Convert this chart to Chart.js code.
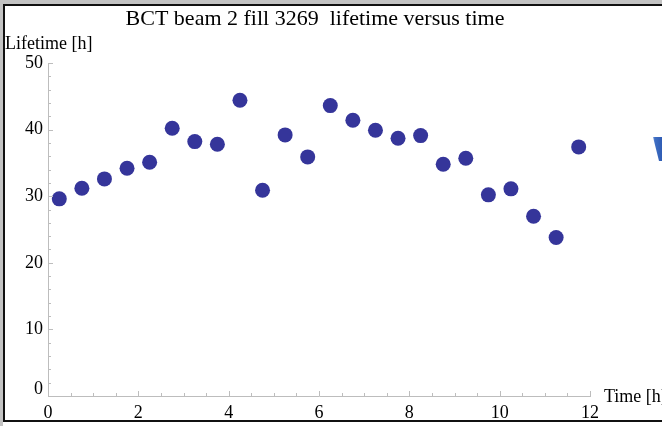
<!DOCTYPE html>
<html>
<head>
<meta charset="utf-8">
<title>BCT beam 2 fill 3269 lifetime versus time</title>
<script src="https://cdn.jsdelivr.net/npm/chart.js@4/dist/chart.umd.min.js"></script>
<style>
  html, body { margin: 0; padding: 0; background: #ffffff; }
  #wrap { width: 662px; height: 426px; position: relative; }
</style>
</head>
<body>
<div id="wrap"><canvas id="c" width="662" height="426"></canvas></div>
<script>
// Beam lifetime measurements, one every half hour
const timeHours = [0.25, 0.75, 1.25, 1.75, 2.25, 2.75, 3.25, 3.75, 4.25, 4.75, 5.25, 5.75,
                   6.25, 6.75, 7.25, 7.75, 8.25, 8.75, 9.25, 9.75, 10.25, 10.75, 11.25, 11.75];
const lifetimeHours = [29.6, 31.2, 32.6, 34.2, 35.1, 40.2, 38.2, 37.8, 44.4, 30.9, 39.2, 35.9,
                       43.6, 41.4, 39.9, 38.7, 39.1, 34.8, 35.7, 30.2, 31.1, 27.0, 23.8, 37.4];
const xTicks = [0, 2, 4, 6, 8, 10, 12];
const yTicks = [0, 10, 20, 30, 40, 50];

const titleText = 'BCT beam 2 fill 3269  lifetime versus time';
const yAxisLabel = 'Lifetime [h]';
const xAxisLabel = 'Time [h]';

const SERIF = '"Liberation Serif", "Times New Roman", serif';
const AXIS_GREY = '#bdbdbd';

const points = timeHours.map((t, i) => ({ x: t, y: lifetimeHours[i] }));

// Frame, captions, inward tick marks and the shifted origin label
const decorations = {
  id: 'decorations',
  beforeDraw(chart) {
    const ctx = chart.ctx;
    ctx.save();
    ctx.fillStyle = '#ffffff';
    ctx.fillRect(0, 0, chart.width, chart.height);
    ctx.restore();
  },
  afterDraw(chart) {
    const ctx = chart.ctx;
    const xs = chart.scales.x, ys = chart.scales.y;
    ctx.save();

    // inward ticks on the horizontal axis
    ctx.strokeStyle = AXIS_GREY;
    ctx.lineWidth = 1;
    const y0 = ys.getPixelForValue(0);
    for (let v = 0; v <= 12.001; v += 0.5) {
      const px = Math.round(xs.getPixelForValue(v)) + 0.5;
      const len = (Math.abs(v / 2 - Math.round(v / 2)) < 1e-6) ? 5 : 3;
      ctx.beginPath(); ctx.moveTo(px, y0); ctx.lineTo(px, y0 - len); ctx.stroke();
    }
    // inward ticks on the vertical axis
    const x0 = xs.getPixelForValue(0);
    for (let v = 0; v <= 50.001; v += 2) {
      const py = Math.round(ys.getPixelForValue(v)) + 0.5;
      const len = (v % 10 === 0) ? 5 : 3;
      ctx.beginPath(); ctx.moveTo(x0, py); ctx.lineTo(x0 + len, py); ctx.stroke();
    }

    // origin label on the vertical axis, lifted clear of the horizontal one
    ctx.fillStyle = '#000000';
    ctx.font = '18px ' + SERIF;
    ctx.textAlign = 'right';
    ctx.textBaseline = 'middle';
    ctx.fillText('0', x0 - 5, y0 - 7);

    // title and axis captions
    ctx.textAlign = 'center';
    ctx.font = '22px ' + SERIF;
    ctx.fillText(titleText, 315, 19);
    ctx.textAlign = 'left';
    ctx.font = '18px ' + SERIF;
    ctx.fillText(yAxisLabel, 5, 44);
    ctx.fillText(xAxisLabel, 604, 397);

    // small blue mark at the right edge
    const g = ctx.createLinearGradient(650, 0, 662, 0);
    g.addColorStop(0, '#ffffff');
    g.addColorStop(0.4, '#3f6fc4');
    g.addColorStop(1, '#2f5cb4');
    ctx.fillStyle = g;
    ctx.beginPath();
    ctx.moveTo(653, 137); ctx.lineTo(662, 137); ctx.lineTo(662, 161); ctx.lineTo(659, 161);
    ctx.closePath(); ctx.fill();

    // window frame
    ctx.fillStyle = '#c3c3c3';
    ctx.fillRect(0, 0, chart.width, 4);
    ctx.fillRect(0, 0, 3, chart.height);
    ctx.fillStyle = '#111111';
    ctx.fillRect(3, 4, chart.width - 3, 2);
    ctx.fillRect(3, 4, 2, 418);
    ctx.fillRect(3, 420, chart.width - 3, 2);
    ctx.restore();
  }
};

new Chart(document.getElementById('c'), {
  type: 'scatter',
  data: {
    datasets: [{
      label: yAxisLabel,
      data: points,
      backgroundColor: '#35359a',
      borderColor: '#35359a',
      borderWidth: 0,
      pointRadius: 7.5,
      pointHoverRadius: 7.5
    }]
  },
  options: {
    responsive: false,
    animation: false,
    events: [],
    layout: { padding: { left: 0, right: 72, top: 63, bottom: 0 } },
    plugins: { legend: { display: false }, tooltip: { enabled: false }, title: { display: false } },
    scales: {
      x: {
        type: 'linear',
        min: 0, max: 12,
        afterFit(scale) { scale.height = 30; },
        afterBuildTicks(scale) { scale.ticks = xTicks.map(v => ({ value: v })); },
        grid: { display: false, drawTicks: false },
        border: { display: true, color: AXIS_GREY, width: 1 },
        ticks: { color: '#000000', padding: 6, maxRotation: 0, autoSkip: false,
                 font: { family: SERIF, size: 18 } }
      },
      y: {
        type: 'linear',
        min: 0, max: 50,
        afterFit(scale) { scale.width = 48; },
        afterBuildTicks(scale) { scale.ticks = yTicks.map(v => ({ value: v })); },
        grid: { display: false, drawTicks: false },
        border: { display: true, color: AXIS_GREY, width: 1 },
        ticks: { color: '#000000', padding: 5, autoSkip: false,
                 callback: v => (v === 0 ? '' : String(v)),
                 font: { family: SERIF, size: 18 } }
      }
    }
  },
  plugins: [decorations]
});
</script>
</body>
</html>
